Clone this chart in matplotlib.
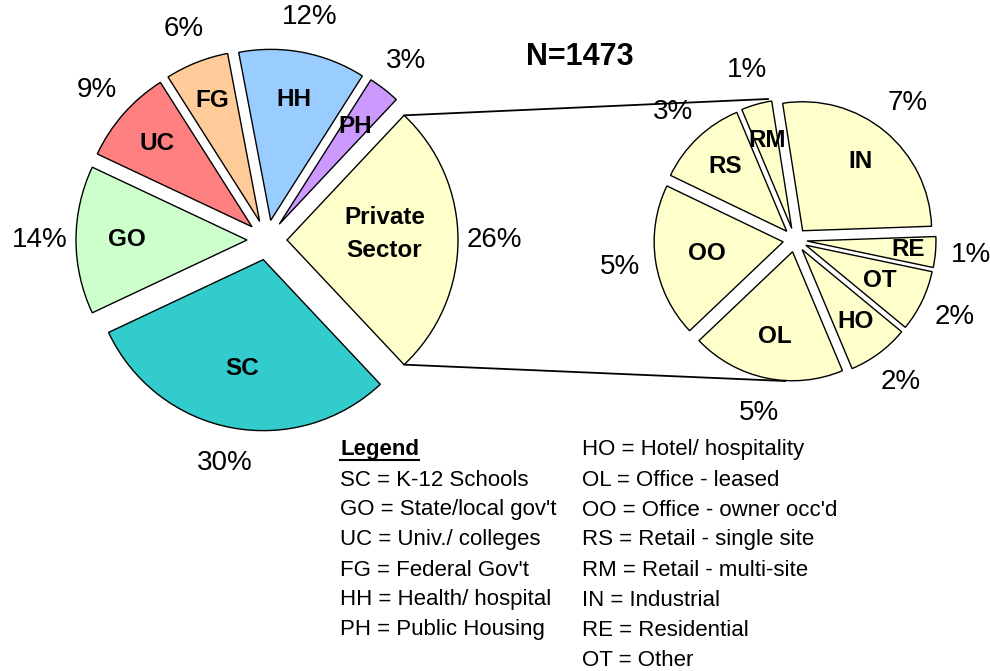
import matplotlib
matplotlib.use('Agg')
import matplotlib.pyplot as plt
import numpy as np

plt.rcParams['font.family'] = ['Liberation Sans', 'DejaVu Sans']

# ---------------- data ----------------
main_labels = ['Private\nSector', 'PH', 'HH', 'FG', 'UC', 'GO', 'SC']
main_values = [26, 3, 12, 6, 9, 14, 30]
main_colors = ['#FFFFCC', '#CC99FF', '#99CCFF', '#FFCC99', '#FF8080', '#CCFFCC', '#33CCCC']

sub_labels = ['IN', 'RM', 'RS', 'OO', 'OL', 'HO', 'OT', 'RE']
sub_values = [7, 1, 3, 5, 5, 2, 2, 1]
sub_color = '#FFFFCC'

title_text = 'N=1473'
legend_title = 'Legend'
legend_left = ['SC = K-12 Schools', "GO = State/local gov't", 'UC = Univ./ colleges',
               "FG = Federal Gov't", 'HH = Health/ hospital', 'PH = Public Housing']
legend_right = ['HO = Hotel/ hospitality', 'OL = Office - leased', "OO = Office - owner occ'd",
                'RS = Retail - single site', 'RM = Retail - multi-site', 'IN = Industrial',
                'RE = Residential', 'OT = Other']

# ---------------- styling / layout ----------------
W, H = 990, 671
main_center = (267, H - 240)
main_r = 171
main_expl = 20
sub_center = (795, H - 240)
sub_r = 129
sub_expl = 12
main_name_dist = [0.57, 0.72, 0.72, 0.76, 0.74, 0.70, 0.65]
sub_name_dist = [0.70, 0.71, 0.69, 0.60, 0.67, 0.69, 0.64, 0.79]
pct_size = 20
name_size = 17.5
leg_size = 16

fig = plt.figure(figsize=(W / 100, H / 100), dpi=100)
ax = fig.add_axes([0, 0, 1, 1])

wp = dict(edgecolor='black', linewidth=1.0)
main_w, _ = ax.pie(main_values, colors=main_colors, center=main_center, radius=main_r,
                   explode=[main_expl] * len(main_values),
                   startangle=-main_values[0] / sum(main_values) * 180,
                   counterclock=True, wedgeprops=wp)
sub_w, _ = ax.pie(sub_values, colors=[sub_color] * len(sub_values), center=sub_center,
                  radius=sub_r, explode=[sub_expl] * len(sub_values), startangle=2,
                  counterclock=True, wedgeprops=wp)


def place(w, frac, text, dy=0, **kw):
    th = np.deg2rad((w.theta1 + w.theta2) / 2)
    cx, cy = w.center
    ax.text(cx + frac * w.r * np.cos(th), cy + frac * w.r * np.sin(th) + dy, text,
            ha='center', va='center', **kw)


for i, (w, lab, v, d) in enumerate(zip(main_w, main_labels, main_values, main_name_dist)):
    place(w, d, lab, dy=(6 if i == 0 else 0), fontsize=name_size, fontweight='bold',
          linespacing=1.55)
    place(w, 1.21, f'{v}%', fontsize=pct_size)

for w, lab, v, d in zip(sub_w, sub_labels, sub_values, sub_name_dist):
    place(w, d, lab, fontsize=name_size, fontweight='bold')
    place(w, 1.28, f'{v}%', fontsize=pct_size)

# connector lines from the Private Sector slice to the secondary pie
ps = main_w[0]
pcx, pcy = ps.center
for th, sy, dx in [(ps.theta2, 1, -27), (ps.theta1, -1, -10)]:
    x0 = pcx + ps.r * np.cos(np.deg2rad(th))
    y0 = pcy + ps.r * np.sin(np.deg2rad(th))
    x1 = sub_center[0] + dx
    y1 = sub_center[1] + sy * (sub_r + sub_expl)
    ax.plot([x0, x1], [y0, y1], color='black', lw=1.3, zorder=0)

ax.text(580, H - 57, title_text, fontsize=22, fontweight='bold', ha='center', va='center')

# legend text
row_h = 30
y_top = H - 450
lt = ax.text(340, y_top, legend_title, fontsize=leg_size, fontweight='bold', ha='left', va='center')
for i, s in enumerate(legend_left):
    ax.text(340, y_top - (i + 1) * row_h, s, fontsize=leg_size, ha='left', va='center')
for i, s in enumerate(legend_right):
    ax.text(582, y_top - i * row_h, s, fontsize=leg_size, ha='left', va='center')

ax.set_xlim(0, W)
ax.set_ylim(0, H)
ax.set_aspect('equal')
ax.axis('off')

fig.canvas.draw()
bb = lt.get_window_extent().transformed(ax.transData.inverted())
ax.plot([bb.x0, bb.x1], [bb.y0 + 1, bb.y0 + 1], color='black', lw=1.5)

fig.savefig('out.png', dpi=100)
